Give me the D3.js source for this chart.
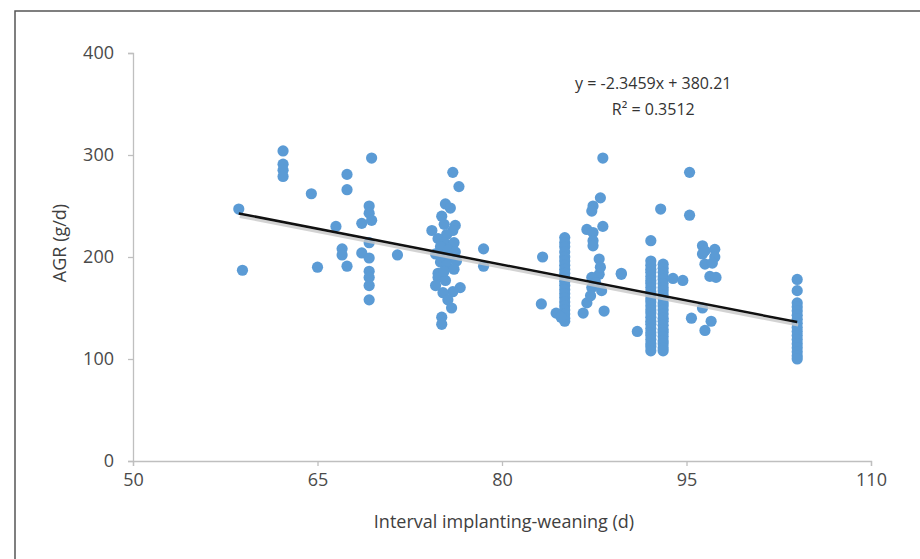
<!DOCTYPE html>
<html>
<head>
<meta charset="utf-8">
<script src="https://cdn.jsdelivr.net/npm/d3@7"></script>
<style>
  body { margin: 0; background: #fff; }
  svg { display: block; font-family: "Open Sans", "Liberation Sans", sans-serif; }
</style>
</head>
<body>
<svg id="chart" width="920" height="559"></svg>
<script>
'use strict';

// clusters of [interval (d), AGR (g/d)]
const groupA = [
    [58.6, 247], [58.9, 187], [62.2, 304], [62.2, 291], [62.2, 285], [62.2, 279],
    [64.5, 262], [65.0, 190]
];
const groupB = [
    [66.5, 230], [67.4, 281], [67.4, 266], [67.0, 208], [67.0, 202], [67.4, 191],
    [69.4, 297], [69.2, 250], [69.2, 243], [69.4, 236], [68.6, 233], [69.2, 214],
    [68.6, 204], [69.2, 199], [69.2, 186], [69.2, 180], [69.2, 172], [69.2, 158],
    [71.5, 202]
];
const groupC = [
    [76.0, 283], [76.5, 269], [75.4, 252], [75.8, 248], [75.1, 240], [74.3, 226],
    [75.3, 232], [76.2, 231], [76.0, 226], [75.5, 222], [74.8, 218], [75.3, 214],
    [76.1, 214], [75.0, 210], [75.6, 207], [76.2, 205], [74.6, 203], [75.2, 200],
    [75.8, 199], [76.3, 196], [75.0, 195], [75.5, 192], [76.1, 188], [74.8, 184],
    [74.8, 180], [75.4, 177], [76.6, 170], [76.0, 166], [75.2, 165], [75.6, 158],
    [75.9, 150], [75.1, 141], [75.1, 134], [78.5, 208], [78.5, 191], [74.6, 172],
    [75.3, 186]
];
const groupD = [
    [85.1, 219], [85.1, 214], [85.1, 210], [85.1, 205], [85.1, 200], [85.1, 196],
    [85.1, 192], [85.1, 188], [85.1, 184], [85.1, 180], [85.1, 176], [85.1, 172],
    [85.1, 168], [85.1, 164], [85.1, 160], [85.1, 156], [85.1, 152], [85.1, 148],
    [85.1, 144], [85.1, 140], [85.1, 137], [83.3, 200], [83.2, 154], [84.4, 145],
    [84.8, 141]
];
const groupE = [
    [88.2, 297], [88.0, 258], [87.4, 250], [87.3, 245], [88.2, 230], [86.9, 227],
    [87.4, 224], [87.4, 216], [87.4, 211], [87.9, 198], [87.9, 183], [87.3, 180],
    [89.7, 184], [87.3, 170], [88.1, 167], [86.9, 155], [86.6, 145], [88.3, 147],
    [87.6, 175], [88.0, 190], [87.2, 162]
];
const groupF = [
    [92.1, 216], [92.1, 196], [92.1, 192], [92.1, 188], [92.1, 185], [92.1, 181],
    [92.1, 177], [92.1, 174], [92.1, 170], [92.1, 166], [92.1, 163], [92.1, 159],
    [92.1, 156], [92.1, 152], [92.1, 148], [92.1, 145], [92.1, 141], [92.1, 137],
    [92.1, 134], [92.1, 130], [92.1, 126], [92.1, 123], [92.1, 119], [92.1, 115],
    [92.1, 112], [92.1, 108],
    [93.1, 193], [93.1, 189], [93.1, 185], [93.1, 181], [93.1, 178], [93.1, 174],
    [93.1, 170], [93.1, 167], [93.1, 163], [93.1, 159], [93.1, 155], [93.1, 152],
    [93.1, 148], [93.1, 144], [93.1, 140], [93.1, 137], [93.1, 133], [93.1, 129],
    [93.1, 126], [93.1, 122], [93.1, 118], [93.1, 115], [93.1, 111], [93.1, 108],
    [92.9, 247], [89.7, 183], [93.9, 179], [94.7, 177], [91.0, 127], [95.25, 283],
    [95.25, 241]
];
const groupG = [
    [96.3, 211], [97.3, 207.5], [96.3, 203], [97.3, 200], [96.5, 193], [96.9, 181],
    [97.4, 180], [96.3, 150], [95.4, 140], [97.0, 137], [96.5, 128], [96.5, 206],
    [97.1, 194]
];
const groupH = [
    [104, 178], [104, 167], [104, 155], [104, 151], [104, 147], [104, 143],
    [104, 139], [104, 135], [104, 131], [104, 127], [104, 123], [104, 119],
    [104, 115], [104, 111], [104, 107], [104, 103], [104, 100]
];

const xTicks = [50, 65, 80, 95, 110];
const yTicks = [0, 100, 200, 300, 400];
const slope = -2.3459;
const intercept = 380.21;
const trendRange = [58.6, 104];
const equationText = 'y = -2.3459x + 380.21';
const rSquaredText = 'R² = 0.3512';

const points = [].concat(groupA, groupB, groupC, groupD, groupE, groupF, groupG, groupH);

const svg = d3.select('#chart');
const margin = {left: 133, right: 49, top: 53, bottom: 98};
const width = 920 - margin.left - margin.right;
const height = 559 - margin.top - margin.bottom;

// outer frame (only top and left are visible in the crop)
svg.append('path')
    .attr('d', 'M15,559 L15,11 L920,11')
    .attr('fill', 'none')
    .attr('stroke', '#555')
    .attr('stroke-width', 1.5);

const g = svg.append('g').attr('transform', `translate(${margin.left},${margin.top})`);

const x = d3.scaleLinear().domain([50, 110]).range([0, width]);
const y = d3.scaleLinear().domain([0, 400]).range([height, 0]);

const xAxis = g.append('g')
    .attr('transform', `translate(0,${height})`)
    .call(d3.axisBottom(x).tickValues(xTicks).tickSize(5).tickPadding(7));
const yAxis = g.append('g')
    .call(d3.axisLeft(y).tickValues(yTicks).tickSize(5).tickPadding(14));

[xAxis, yAxis].forEach((ax) => {
    ax.select('.domain').attr('stroke', '#bfbfbf').attr('stroke-width', 1.3);
    ax.selectAll('.tick line').attr('stroke', '#bfbfbf').attr('stroke-width', 1.3);
    ax.selectAll('.tick text')
        .attr('font-size', 18)
        .attr('font-family', 'Open Sans')
        .attr('fill', '#4a4a4a');
});

// points
g.selectAll('circle.pt')
    .data(points)
    .enter()
    .append('circle')
    .attr('class', 'pt')
    .attr('cx', d => x(d[0]))
    .attr('cy', d => y(d[1]))
    .attr('r', 5.6)
    .attr('fill', '#5b9bd5');

// trend line with soft shadow
const trend = trendRange.map(v => [v, slope * v + intercept]);
const line = d3.line().x(d => x(d[0])).y(d => y(d[1]));
g.append('path')
    .datum(trend)
    .attr('d', line)
    .attr('transform', 'translate(1,3)')
    .attr('fill', 'none')
    .attr('stroke', '#c8c8c8')
    .attr('stroke-width', 3)
    .attr('opacity', 0.8);
g.append('path')
    .datum(trend)
    .attr('d', line)
    .attr('fill', 'none')
    .attr('stroke', '#111')
    .attr('stroke-width', 2.5);

// equation label
g.append('text')
    .attr('x', x(92.3))
    .attr('y', 36)
    .attr('text-anchor', 'middle')
    .attr('font-size', 16)
    .attr('fill', '#333')
    .text(equationText);
g.append('text')
    .attr('x', x(92.3))
    .attr('y', 62)
    .attr('text-anchor', 'middle')
    .attr('font-size', 16)
    .attr('fill', '#333')
    .text(rSquaredText);

// axis titles
svg.append('text')
    .attr('x', 504)
    .attr('y', 528)
    .attr('text-anchor', 'middle')
    .attr('font-size', 18)
    .attr('fill', '#404040')
    .text('Interval implanting-weaning (d)');

svg.append('text')
    .attr('transform', 'translate(66,243) rotate(-90)')
    .attr('text-anchor', 'middle')
    .attr('font-size', 18)
    .attr('fill', '#404040')
    .text('AGR (g/d)');
</script>
</body>
</html>
